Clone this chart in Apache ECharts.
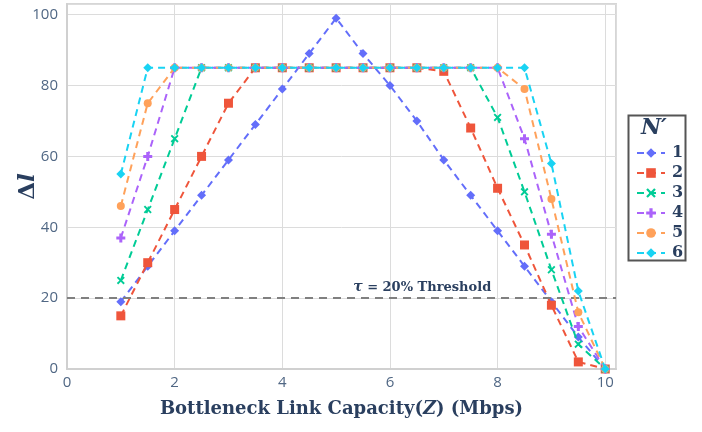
<!DOCTYPE html>
<html>
<head>
<meta charset="utf-8">
<script src="https://cdn.jsdelivr.net/npm/echarts@6/dist/echarts.min.js"></script>
<style>html,body{margin:0;padding:0;background:#fff}#c{width:702px;height:432px}</style>
</head>
<body>
<div id="c"></div>
<script>
const xValues = [1, 1.5, 2, 2.5, 3, 3.5, 4, 4.5, 5, 5.5, 6, 6.5, 7, 7.5, 8, 8.5, 9, 9.5, 10];
const seriesNames = ['1', '2', '3', '4', '5', '6'];
const s1 = [19, 29, 39, 49, 59, 69, 79, 89, 99, 89, 80, 70, 59, 49, 39, 29, 19, 9, 0];
const s2 = [15, 30, 45, 60, 75, 85, 85, 85, 85, 85, 85, 85, 84, 68, 51, 35, 18, 2, 0];
const s3 = [25, 45, 65, 85, 85, 85, 85, 85, 85, 85, 85, 85, 85, 85, 71, 50, 28, 7, 0];
const s4 = [37, 60, 85, 85, 85, 85, 85, 85, 85, 85, 85, 85, 85, 85, 85, 65, 38, 12, 0];
const s5 = [46, 75, 85, 85, 85, 85, 85, 85, 85, 85, 85, 85, 85, 85, 85, 79, 48, 16, 0];
const s6 = [55, 85, 85, 85, 85, 85, 85, 85, 85, 85, 85, 85, 85, 85, 85, 85, 58, 22, 0];
const thresholdValue = 20;
const thresholdLabelX = 6.6;
const xTicks = [0, 2, 4, 6, 8, 10];
const yTicks = [0, 20, 40, 60, 80, 100];

const allSeries = [s1, s2, s3, s4, s5, s6];
const colors = ['#636efa', '#EF553B', '#00cc96', '#ab63fa', '#FFA15A', '#19d3f3'];
const xPath = 'path://M1,0 L3,2 L5,0 L6,1 L4,3 L6,5 L5,6 L3,4 L1,6 L0,5 L2,3 L0,1 Z';
const plusPath = 'path://M2,0 H4 V2 H6 V4 H4 V6 H2 V4 H0 V2 H2 Z';
const symbols = ['diamond', 'rect', xPath, plusPath, 'circle', 'diamond'];
const sizes = [9, 9, 8, 9, 8, 9];
const serif = '"DejaVu Serif", "Liberation Serif", serif';
const textColor = '#2a3f5f';

const chart = echarts.init(document.getElementById('c'), null, {renderer: 'canvas'});

const series = allSeries.map((vals, i) => ({
  name: seriesNames[i],
  type: 'line',
  data: xValues.map((x, j) => [x, vals[j]]),
  symbol: symbols[i],
  symbolSize: sizes[i],
  showAllSymbol: true,
  itemStyle: {color: colors[i]},
  lineStyle: {color: colors[i], width: 2, type: [7, 5]},
  z: 3 + i,
  animation: false
}));

series.push({
  name: 'threshold',
  type: 'line',
  data: [],
  silent: true,
  animation: false,
  markLine: {
    silent: true,
    symbol: ['none', 'none'],
    lineStyle: {color: '#808080', width: 2, type: [8, 6]},
    label: {show: false},
    data: [{yAxis: thresholdValue}],
    animation: false
  },
  markPoint: {
    symbol: 'circle',
    symbolSize: 0,
    data: [{coord: [thresholdLabelX, thresholdValue]}],
    label: {
      show: true,
      position: 'top',
      distance: 4,
      formatter: '{i|τ} = 20% Threshold',
      fontFamily: serif,
      fontWeight: 'bold',
      fontSize: 13,
      color: textColor,
      rich: {i: {fontFamily: serif, fontStyle: 'italic', fontWeight: 'bold', fontSize: 14, color: textColor}}
    },
    animation: false
  }
});

chart.setOption({
  backgroundColor: '#ffffff',
  animation: false,
  grid: {left: 67, right: 86, top: 4, bottom: 63, show: true, borderColor: '#d6d6d6', borderWidth: 2, backgroundColor: '#fff', containLabel: false, outerBoundsMode: 'none'},
  xAxis: {
    type: 'value', min: 0, max: 10.2, interval: 2,
    name: '{a|Bottleneck Link Capacity(}{i|Z}{a|) (Mbps)}',
    nameLocation: 'middle', nameGap: 31, nameMoveOverlap: false,
    nameTextStyle: {
      rich: {
        a: {fontFamily: serif, fontWeight: 'bold', fontSize: 18, color: textColor},
        i: {fontFamily: serif, fontWeight: 'bold', fontStyle: 'italic', fontSize: 18, color: textColor}
      }
    },
    axisLine: {show: true, lineStyle: {color: '#d0d0d0', width: 2}},
    axisTick: {show: false},
    axisLabel: {color: '#506784', fontSize: 15, fontFamily: '"Open Sans", sans-serif', margin: 6, showMaxLabel: false,
      formatter: v => xTicks.includes(v) ? String(v) : ''},
    splitLine: {show: true, lineStyle: {color: '#dcdcdc', width: 1}}
  },
  yAxis: {
    type: 'value', min: 0, max: 103, interval: 20,
    name: '{a|Δ}{i|l}',
    nameLocation: 'middle', nameGap: 27, nameRotate: 90, nameMoveOverlap: false,
    nameTextStyle: {
      rich: {
        a: {fontFamily: serif, fontWeight: 'bold', fontSize: 23, color: textColor},
        i: {fontFamily: serif, fontWeight: 'bold', fontStyle: 'italic', fontSize: 23, color: textColor}
      }
    },
    axisLine: {show: true, lineStyle: {color: '#d0d0d0', width: 2}},
    axisTick: {show: false},
    axisLabel: {color: '#506784', fontSize: 15, fontFamily: '"Open Sans", sans-serif', margin: 9, showMaxLabel: false,
      formatter: v => yTicks.includes(v) ? String(v) : ''},
    splitLine: {show: true, lineStyle: {color: '#dcdcdc', width: 1}}
  },
  legend: {
    data: seriesNames,
    orient: 'vertical',
    left: 631, top: 140,
    itemWidth: 28, itemHeight: 12, itemGap: 4,
    selectedMode: false,
    textStyle: {fontFamily: serif, fontWeight: 'bold', fontSize: 16, color: textColor, lineHeight: 16, padding: [0, 0, 0, 2]}
  },
  graphic: [
    {type: 'rect', left: 626, top: 113, shape: {width: 57, height: 145}, style: {fill: 'none', stroke: '#555', lineWidth: 2}, z: 100},
    {type: 'text', left: 641, top: 117, style: {text: 'N′', fontFamily: serif, fontStyle: 'italic', fontWeight: 'bold', fontSize: 22, fill: textColor}, z: 100}
  ],
  series: series
});
</script>
</body>
</html>
